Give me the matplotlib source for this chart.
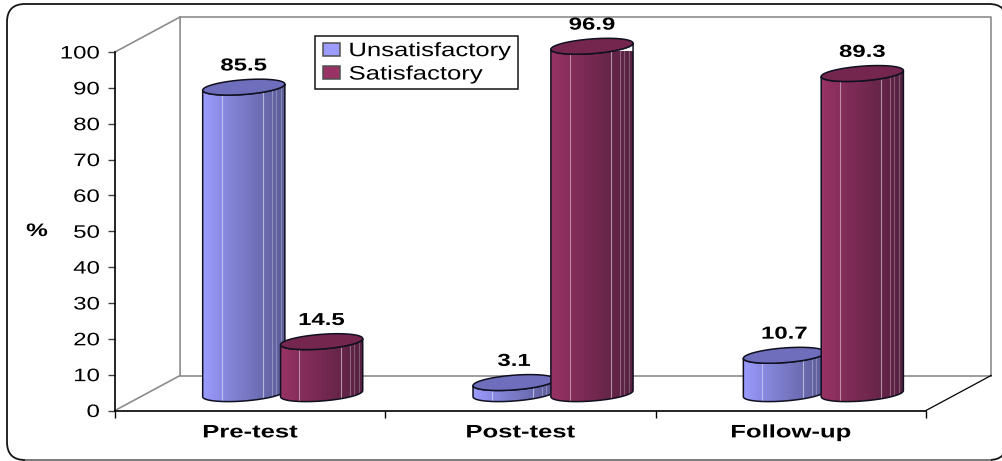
import numpy as np
import matplotlib
matplotlib.use('Agg')
import matplotlib.pyplot as plt
from matplotlib.lines import Line2D
from matplotlib.patches import FancyBboxPatch, Patch, Polygon, Rectangle
from matplotlib.patheffects import AbstractPathEffect
from matplotlib.transforms import Affine2D, IdentityTransform

plt.rcParams['font.family'] = ['Liberation Sans', 'DejaVu Sans']

# datos
categorias = ['Pre-test', 'Post-test', 'Follow-up']
series = ['Unsatisfactory', 'Satisfactory']
unsatisfactory = [85.5, 3.1, 10.7]
satisfactory = [14.5, 96.9, 89.3]
yticks = list(range(0, 101, 10))

# colores
azul = ['#9c9cff', '#5b5b96']
azul_tapa = '#6e6ebd'
granate = ['#993366', '#55203f']
granate_tapa = '#74264f'


# el original tiene el texto estirado a lo ancho
class Estirar(AbstractPathEffect):
    def __init__(self, sx, ancla='center'):
        super().__init__()
        self.sx = sx
        self.ancla = ancla

    def draw_path(self, renderer, gc, tpath, affine, rgbFace=None):
        e = tpath.get_extents()
        x0 = {'left': e.x0, 'center': (e.x0 + e.x1) / 2, 'right': e.x1}[self.ancla]
        t = Affine2D().translate(-x0, 0).scale(self.sx, 1).translate(x0, 0)
        renderer.draw_path(gc, tpath, t + affine, rgbFace)


W, H = 1002, 461
fig = plt.figure(figsize=(W / 100, H / 100), dpi=100)
ax = fig.add_axes([115 / W, 1 - 410.5 / H, 811 / W, 358.5 / H])
ax.set_xlim(0, 3)
ax.set_ylim(0, 100)
ax.patch.set_alpha(0)

# profundidad 3D en unidades de datos
dx = 65 / 270
dy = 35 / 3.585
base = 4.7           # altura del centro de la base
semi_a = 0.152       # semieje horizontal
semi_b = 2.05        # semieje vertical
tilt = 0.85          # inclinación de la elipse

# marco redondeado (se sale por la derecha, como en el original)
marco = FancyBboxPatch((7, 1), 1000, 456, boxstyle='round,pad=0,rounding_size=18',
                       transform=IdentityTransform(), fc='white', ec='#151515', lw=1.3,
                       zorder=-10)
fig.add_artist(marco)
fig.add_artist(Line2D([26 / W, 990 / W], [1.2 / H, 1.2 / H], color='#808080', lw=1.4, zorder=-9))

# paredes
gris = '#8c8c8c'
ax.plot([0, dx, dx], [0, dy, 100 + dy], color=gris, lw=1.2, clip_on=False)
ax.plot([0, dx], [100, 100 + dy], color=gris, lw=1.2, clip_on=False)
ax.plot([dx, 3 + dx, 3 + dx], [100 + dy, 100 + dy, dy], color=gris, lw=1.2, clip_on=False)
ax.plot([dx, 3 + dx], [dy, dy], color=gris, lw=1.2, clip_on=False)
ax.plot([3, 3 + dx], [0, dy], color='black', lw=0.9, clip_on=False)


def elipse(cx, cy):
    t = np.linspace(0, 2 * np.pi, 90)
    return cx + semi_a * np.cos(t), cy + semi_b * np.sin(t) + tilt * np.cos(t)


def cilindro(cx, valor, colores, tapa, z):
    y0 = base
    y1 = base + valor
    t = np.linspace(np.pi, 2 * np.pi, 45)
    xb = cx + semi_a * np.cos(t)
    yb = y0 + semi_b * np.sin(t) + tilt * np.cos(t)
    xt = xb[::-1]
    yt = y1 + semi_b * np.sin(t[::-1]) + tilt * np.cos(t[::-1])
    cuerpo = np.column_stack([np.r_[xb, xt], np.r_[yb, yt]])
    grad = np.linspace(0, 1, 256).reshape(1, -1) ** 0.9
    cmap = matplotlib.colors.LinearSegmentedColormap.from_list('c', colores)
    im = ax.imshow(grad, extent=[cx - semi_a, cx + semi_a, y0 - 3, y1 + 3], cmap=cmap,
                   aspect='auto', zorder=z)
    clip = Polygon(cuerpo, closed=True, transform=ax.transData, fc='none', ec='none', clip_on=False)
    ax.add_patch(clip)
    im.set_clip_box(None)
    im.set_clip_path(clip)
    # rayas claras de las facetas
    for f, a in [(0.23, 0.45), (0.73, 0.5), (0.84, 0.3), (0.89, 0.25), (0.95, 0.25)]:
        u = 2 * f - 1
        xr = cx + semi_a * u
        yr = y0 - semi_b * np.sqrt(1 - u ** 2) + tilt * u
        ax.plot([xr, xr], [yr, y1 - semi_b * np.sqrt(1 - u ** 2) + tilt * u], color='white',
                alpha=a, lw=0.8, zorder=z + 0.1, clip_on=False)
    ax.add_patch(Polygon(cuerpo, closed=True, fc='none', ec='#101020', lw=1.1, zorder=z + 0.2,
                         clip_on=False))
    xe, ye = elipse(cx, y1)
    ax.add_patch(Polygon(np.column_stack([xe, ye]), closed=True, fc=tapa, ec='#101020',
                         lw=1.1, zorder=z + 0.3, clip_on=False))
    ax.text(cx, y1 + 5.9, f'{valor}', ha='center', va='center', fontsize=12.5,
            fontweight='bold', zorder=z + 0.4, path_effects=[Estirar(1.38)])


desplaz = 0.144
for i in range(len(categorias)):
    c = i + 0.5 + dx / 2
    cilindro(c - desplaz, unsatisfactory[i], azul, azul_tapa, 3)
    cilindro(c + desplaz, satisfactory[i], granate, granate_tapa, 4)

ax.set_xlim(0, 3)
ax.set_ylim(0, 100)

# ejes
for s in ['top', 'right']:
    ax.spines[s].set_visible(False)
ax.spines['left'].set_linewidth(1.2)
ax.spines['bottom'].set_linewidth(1.2)
ax.set_yticks(yticks)
ax.tick_params(axis='y', labelsize=13, length=5, width=1, pad=6, color='#404040')
for lab in ax.get_yticklabels():
    lab.set_path_effects([Estirar(1.33, 'right')])
ax.set_xticks([0, 1, 2, 3])
ax.set_xticklabels([])
ax.tick_params(axis='x', length=5, width=1)
ax.set_xticks([0.5, 1.5, 2.5], labels=categorias, minor=True)
ax.tick_params(axis='x', which='minor', length=0, labelsize=13, pad=10)
for lab in ax.get_xticklabels(minor=True):
    lab.set_fontweight('bold')
    lab.set_path_effects([Estirar(1.42)])
ax.set_ylabel('%', rotation=0, fontsize=13, fontweight='bold', ha='center', va='center',
              path_effects=[Estirar(1.35)])
ax.yaxis.set_label_coords(-78 / 811, 179 / 358.5)

# leyenda: el marco va aparte porque el texto estirado no entra en el cálculo del ancho
fig.add_artist(Rectangle((314.5 / W, 1 - 89 / H), 203 / W, 53 / H, transform=fig.transFigure,
                         fc='white', ec='#151515', lw=1.1))
handles = [Patch(fc=azul[0], ec='#505050', lw=1.1, label=series[0]),
           Patch(fc=granate[0], ec='#505050', lw=1.1, label=series[1])]
leg = fig.legend(handles=handles, loc='upper left', bbox_to_anchor=(323 / W, 1 - 43 / H),
                 fontsize=14, frameon=False, borderpad=0, labelspacing=0.32,
                 handlelength=0.87, handleheight=0.62, handletextpad=0.46, borderaxespad=0)
for t in leg.get_texts():
    t.set_path_effects([Estirar(1.32, 'left')])

fig.savefig('out.png', dpi=100)
